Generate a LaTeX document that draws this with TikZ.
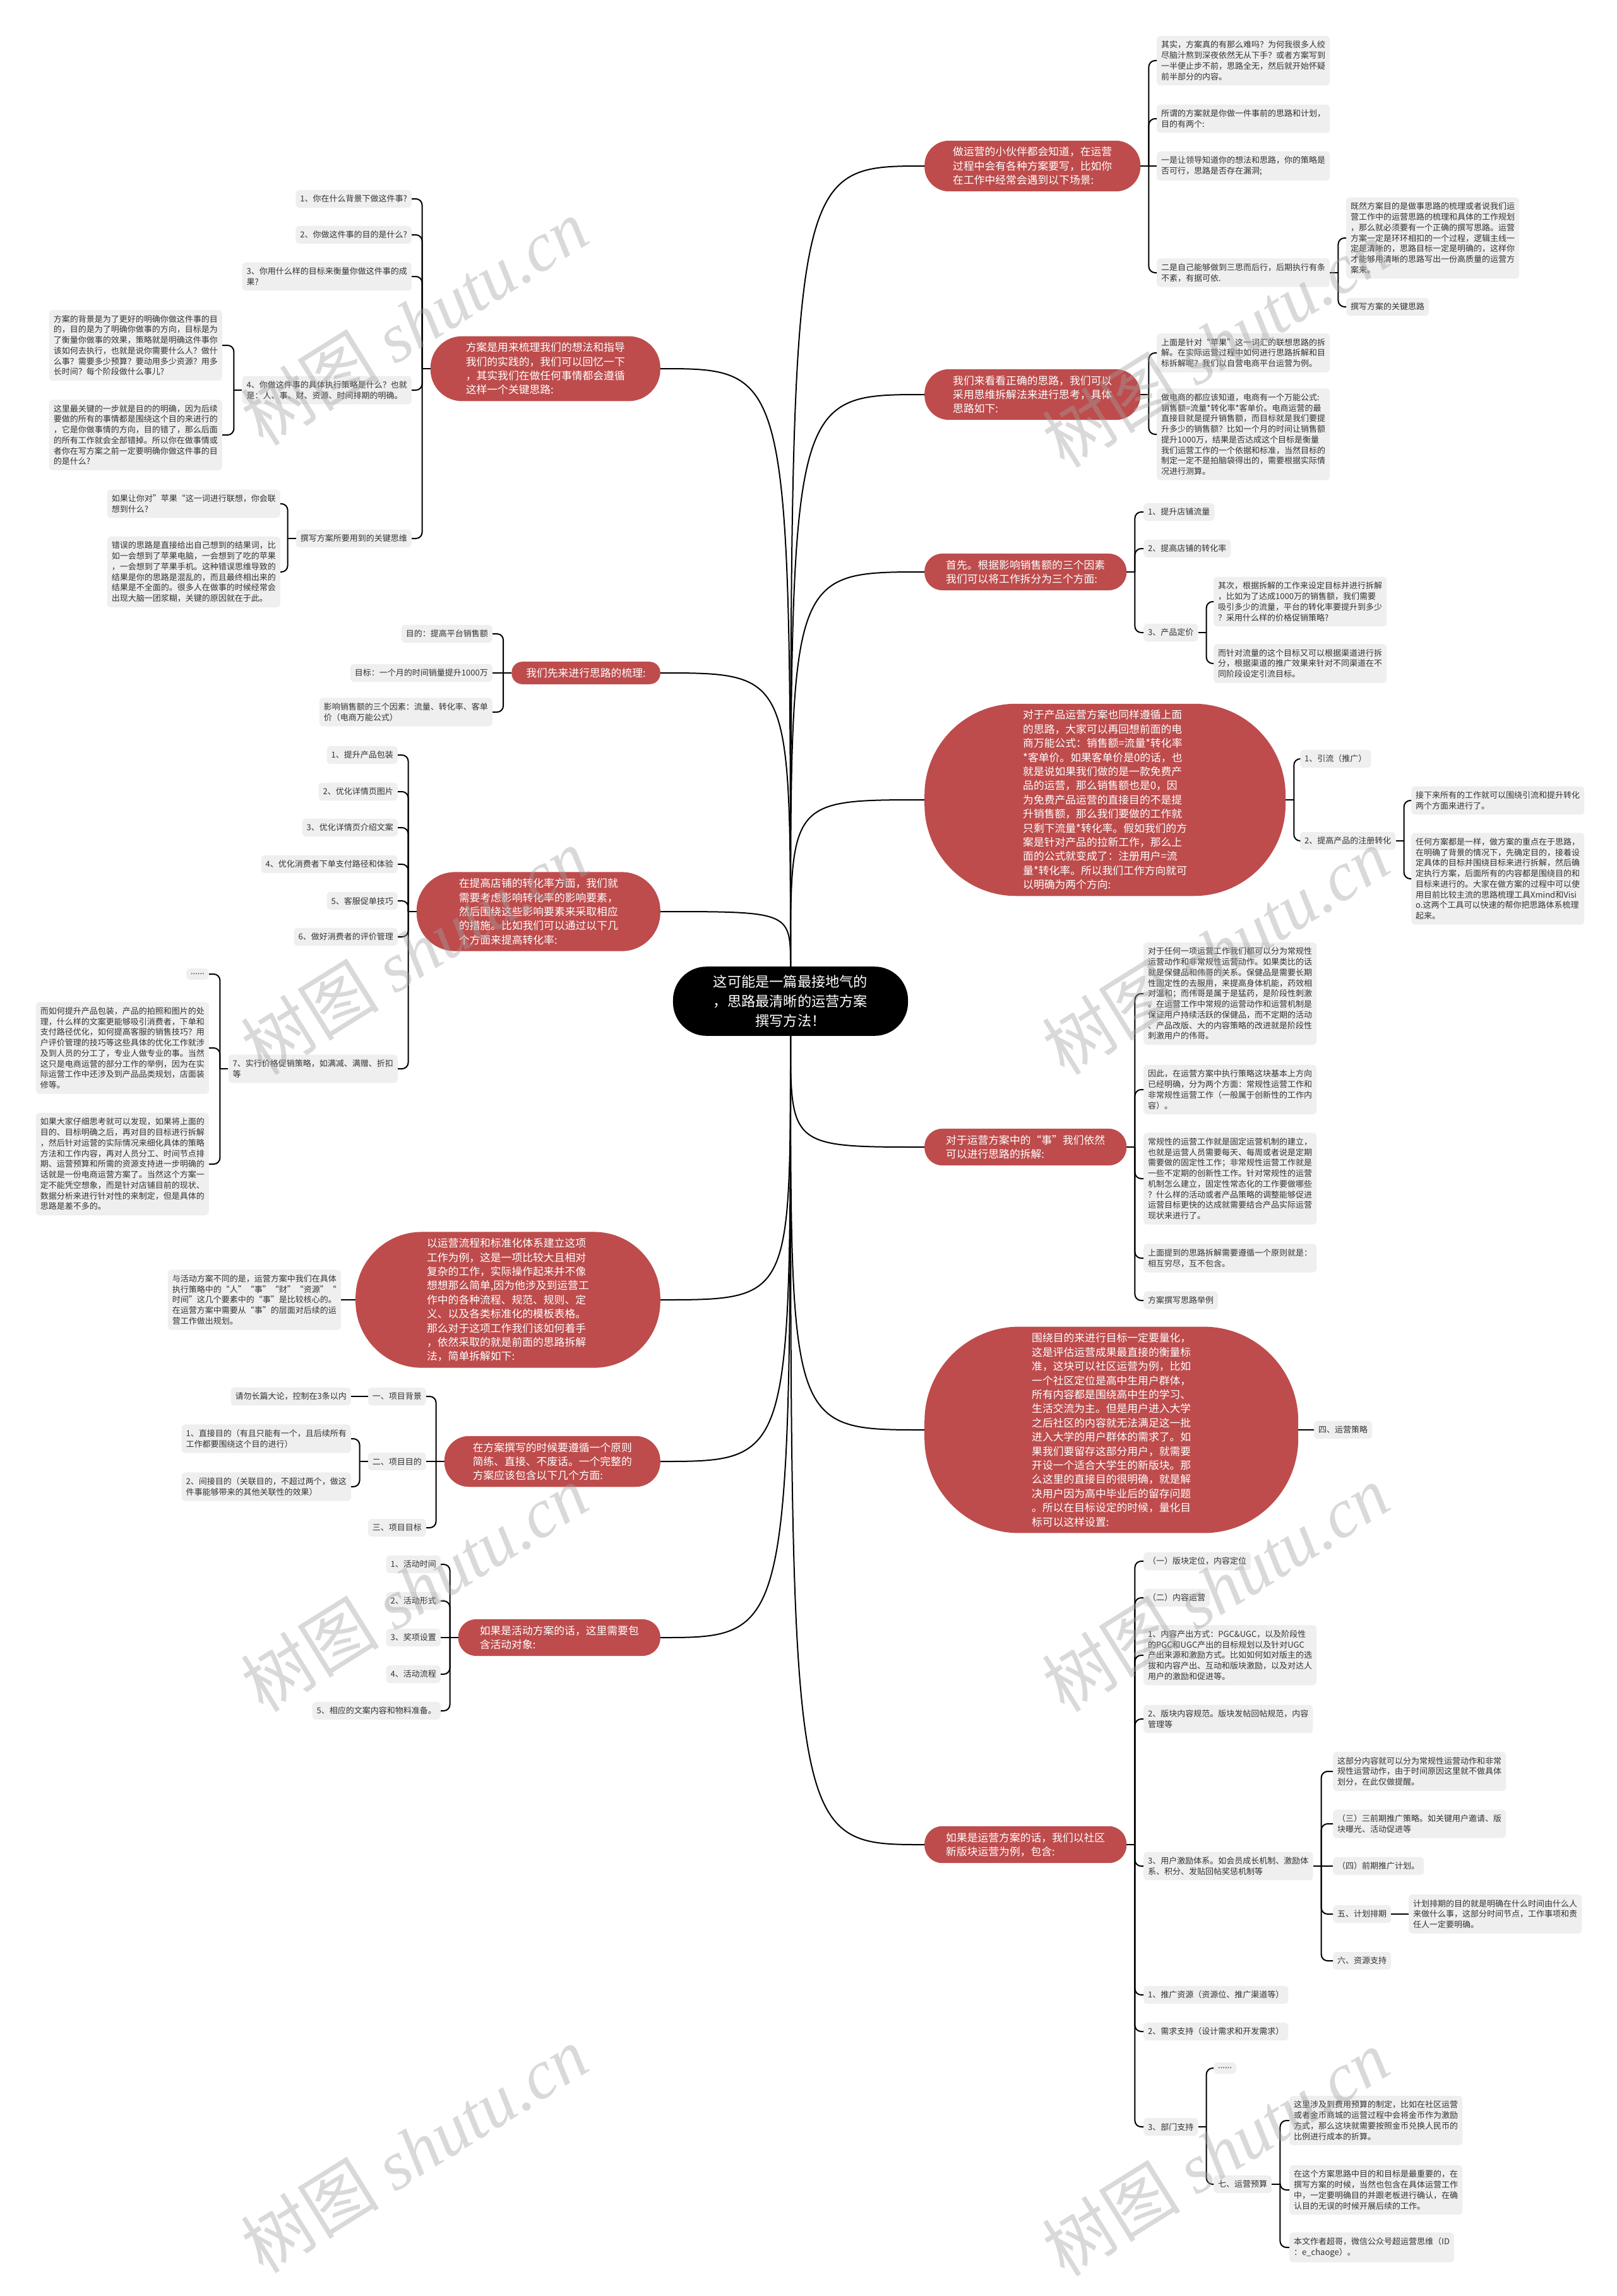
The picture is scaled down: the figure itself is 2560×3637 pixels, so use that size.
\documentclass[tikz,border=0pt]{standalone}
\usepackage{fontspec}
\setmainfont{Noto Sans CJK SC}
\newfontfamily\wmserif{Liberation Serif}
\definecolor{redn}{RGB}{190,76,76}
\definecolor{grayn}{RGB}{239,239,239}
\definecolor{txt}{RGB}{51,51,51}
\definecolor{wmc}{RGB}{160,160,160}
\tikzset{
  conn/.style={draw=black, line width=2pt},
  gbox/.style={fill=grayn, rounded corners=6pt, text=txt, align=left, inner xsep=7pt, inner ysep=8pt, font=\fontsize{13}{16.75}\selectfont},
  rbox/.style={rectangle, rounded corners=#1pt, fill=redn, text=white, align=left, inner xsep=#1pt+6pt, inner ysep=10pt, font=\fontsize{16.8}{22.4}\selectfont},
  cbox/.style={rectangle, rounded corners=53pt, fill=black, text=white, align=center, inner xsep=64pt, inner ysep=13.7pt, font=\fontsize{22.2}{30.8}\selectfont},
  wm/.style={text=wmc, opacity=0.4, rotate=32, inner sep=0pt, font=\fontsize{110}{110}\selectfont},
}
\newcommand{\kidsR}[2]{\draw[conn] (#1.east) -- ++(13,0) coordinate (sp);
  \foreach \k in {#2}{\draw[conn,rounded corners=10pt] (sp) |- (\k.west);}}
\newcommand{\kidsL}[2]{\draw[conn] (#1.west) -- ++(-13,0) coordinate (sp);
  \foreach \k in {#2}{\draw[conn,rounded corners=10pt] (sp) |- (\k.east);}}
\begin{document}
\begin{tikzpicture}[x=1pt,y=-1pt]
\useasboundingbox (0,0) rectangle (2560,3637);
\fill[white] (0,0) rectangle (2560,3637);

% center
\node[cbox] (C) at (1252,1586) {这可能是一篇最接地气的\\，思路最清晰的运营方案\\撰写方法！};

% ---------------- right side ----------------
\node[rbox=39, anchor=west] (R1) at (1464,263) {做运营的小伙伴都会知道，在运营\\过程中会有各种方案要写，比如你\\在工作中经常会遇到以下场景:};
\node[gbox, anchor=west] (R1a) at (1832,96) {其实，方案真的有那么难吗？为何我很多人绞\\尽脑汁熬到深夜依然无从下手？或者方案写到\\一半便止步不前，思路全无，然后就开始怀疑\\前半部分的内容。};
\node[gbox, anchor=west] (R1b) at (1832,188) {所谓的方案就是你做一件事前的思路和计划，\\目的有两个:};
\node[gbox, anchor=west] (R1c) at (1832,263) {一是让领导知道你的想法和思路，你的策略是\\否可行，思路是否存在漏洞;};
\node[gbox, anchor=west] (R1d) at (1832,432) {二是自己能够做到三思而后行，后期执行有条\\不紊，有据可依.};
\node[gbox, anchor=west] (R1d1) at (2132,377) {既然方案目的是做事思路的梳理或者说我们运\\营工作中的运营思路的梳理和具体的工作规划\\，那么就必须要有一个正确的撰写思路。运营\\方案一定是环环相扣的一个过程，逻辑主线一\\定是清晰的，思路目标一定是明确的，这样你\\才能够用清晰的思路写出一份高质量的运营方\\案来。};
\node[gbox, anchor=west] (R1d2) at (2132,486) {撰写方案的关键思路};

\node[rbox=39, anchor=west] (R2) at (1464,625) {我们来看看正确的思路，我们可以\\采用思维拆解法来进行思考，具体\\思路如下:};
\node[gbox, anchor=west] (R2a) at (1832,559) {上面是针对“苹果”这一词汇的联想思路的拆\\解。在实际运营过程中如何进行思路拆解和目\\标拆解呢？我们以自营电商平台运营为例。};
\node[gbox, anchor=west] (R2b) at (1832,688) {做电商的都应该知道，电商有一个万能公式:\\销售额=流量*转化率*客单价。电商运营的最\\直接目就是提升销售额，而目标就是我们要提\\升多少的销售额？比如一个月的时间让销售额\\提升1000万，结果是否达成这个目标是衡量\\我们运营工作的一个依据和标准，当然目标的\\制定一定不是拍脑袋得出的，需要根据实际情\\况进行测算。};

\node[rbox=28, anchor=west] (R3) at (1464,906) {首先。根据影响销售额的三个因素\\我们可以将工作拆分为三个方面:};
\node[gbox, anchor=west] (R3a) at (1811,811) {1、提升店铺流量};
\node[gbox, anchor=west] (R3b) at (1811,869) {2、提高店铺的转化率};
\node[gbox, anchor=west] (R3c) at (1811,1002) {3、产品定价};
\node[gbox, anchor=west] (R3c1) at (1922,953) {其次，根据拆解的工作来设定目标并进行拆解\\，比如为了达成1000万的销售额，我们需要\\吸引多少的流量，平台的转化率要提升到多少\\？采用什么样的价格促销策略?};
\node[gbox, anchor=west] (R3c2) at (1922,1051) {而针对流量的这个目标又可以根据渠道进行拆\\分，根据渠道的推广效果来针对不同渠道在不\\同阶段设定引流目标。};

\node[rbox=145, inner xsep=156pt, anchor=west] (R4) at (1464,1267) {对于产品运营方案也同样遵循上面\\的思路，大家可以再回想前面的电\\商万能公式：销售额=流量*转化率\\*客单价。如果客单价是0的话，也\\就是说如果我们做的是一款免费产\\品的运营，那么销售额也是0，因\\为免费产品运营的直接目的不是提\\升销售额，那么我们要做的工作就\\只剩下流量*转化率。假如我们的方\\案是针对产品的拉新工作，那么上\\面的公式就变成了：注册用户=流\\量*转化率。所以我们工作方向就可\\以明确为两个方向:};
\node[gbox, anchor=west] (R4a) at (2059,1202) {1、引流（推广）};
\node[gbox, anchor=west] (R4b) at (2059,1332) {2、提高产品的注册转化};
\node[gbox, anchor=west] (R4b1) at (2235,1268) {接下来所有的工作就可以围绕引流和提升转化\\两个方面来进行了。};
\node[gbox, anchor=west] (R4b2) at (2235,1392) {任何方案都是一样，做方案的重点在于思路，\\在明确了背景的情况下，先确定目的，接着设\\定具体的目标并围绕目标来进行拆解，然后确\\定执行方案，后面所有的内容都是围绕目的和\\目标来进行的。大家在做方案的过程中可以使\\用目前比较主流的思路梳理工具Xmind和Visi\\o.这两个工具可以快速的帮你把思路体系梳理\\起来。};

\node[rbox=28, anchor=west] (R5) at (1464,1817) {对于运营方案中的“事”我们依然\\可以进行思路的拆解:};
\node[gbox, anchor=west] (R5a) at (1811,1574) {对于任何一项运营工作我们都可以分为常规性\\运营动作和非常规性运营动作。如果类比的话\\就是保健品和伟哥的关系。保健品是需要长期\\性固定性的去服用，来提高身体机能，药效相\\对温和；而伟哥是属于是猛药，是阶段性刺激\\。在运营工作中常规的运营动作和运营机制是\\保证用户持续活跃的保健品，而不定期的活动\\、产品改版、大的内容策略的改进就是阶段性\\刺激用户的伟哥。};
\node[gbox, anchor=west] (R5b) at (1811,1726) {因此，在运营方案中执行策略这块基本上方向\\已经明确，分为两个方面：常规性运营工作和\\非常规性运营工作（一般属于创新性的工作内\\容）。};
\node[gbox, anchor=west] (R5c) at (1811,1867) {常规性的运营工作就是固定运营机制的建立，\\也就是运营人员需要每天、每周或者说是定期\\需要做的固定性工作；非常规性运营工作就是\\一些不定期的创新性工作。针对常规性的运营\\机制怎么建立，固定性常态化的工作要做哪些\\？什么样的活动或者产品策略的调整能够促进\\运营目标更快的达成就需要结合产品实际运营\\现状来进行了。};
\node[gbox, anchor=west] (R5d) at (1811,1993) {上面提到的思路拆解需要遵循一个原则就是：\\相互穷尽，互不包含。};
\node[gbox, anchor=west] (R5e) at (1811,2060) {方案撰写思路举例};

\node[rbox=150, inner xsep=170pt, anchor=west] (R6) at (1464,2265) {围绕目的来进行目标一定要量化，\\这是评估运营成果最直接的衡量标\\准，这块可以社区运营为例，比如\\一个社区定位是高中生用户群体，\\所有内容都是围绕高中生的学习、\\生活交流为主。但是用户进入大学\\之后社区的内容就无法满足这一批\\进入大学的用户群体的需求了。如\\果我们要留存这部分用户，就需要\\开设一个适合大学生的新版块。那\\么这里的直接目的很明确，就是解\\决用户因为高中毕业后的留存问题\\。所以在目标设定的时候，量化目\\标可以这样设置:};
\node[gbox, anchor=west] (R6a) at (2081,2265) {四、运营策略};

\node[rbox=28, anchor=west] (R7) at (1464,2922) {如果是运营方案的话，我们以社区\\新版块运营为例，包含:};
\node[gbox, anchor=west] (R7a) at (1811,2473) {（一）版块定位，内容定位};
\node[gbox, anchor=west] (R7b) at (1811,2531) {（二）内容运营};
\node[gbox, anchor=west] (R7c) at (1811,2622) {1、内容产出方式：PGC\&UGC，以及阶段性\\的PGC和UGC产出的目标规划以及针对UGC\\产出来源和激励方式。比如如何如对版主的选\\拔和内容产出、互动和版块激励，以及对达人\\用户的激励和促进等。};
\node[gbox, anchor=west] (R7d) at (1811,2723) {2、版块内容规范。版块发帖回帖规范，内容\\管理等};
\node[gbox, anchor=west] (R7e) at (1811,2956) {3、用户激励体系。如会员成长机制、激励体\\系、积分、发贴回帖奖惩机制等};
\node[gbox, anchor=west] (R7e1) at (2111,2806) {这部分内容就可以分为常规性运营动作和非常\\规性运营动作，由于时间原因这里就不做具体\\划分，在此仅做提醒。};
\node[gbox, anchor=west] (R7e2) at (2111,2889) {（三）三前期推广策略。如关键用户邀请、版\\块曝光、活动促进等};
\node[gbox, anchor=west] (R7e3) at (2111,2956) {（四）前期推广计划。};
\node[gbox, anchor=west] (R7e4) at (2111,3032) {五、计划排期};
\node[gbox, anchor=west] (R7e4a) at (2231,3032) {计划排期的目的就是明确在什么时间由什么人\\来做什么事，这部分时间节点，工作事项和责\\任人一定要明确。};
\node[gbox, anchor=west] (R7e5) at (2111,3106) {六、资源支持};
\node[gbox, anchor=west] (R7f) at (1811,3160) {1、推广资源（资源位、推广渠道等）};
\node[gbox, anchor=west] (R7g) at (1811,3218) {2、需求支持（设计需求和开发需求）};
\node[gbox, anchor=west] (R7h) at (1811,3369) {3、部门支持};
\node[gbox, anchor=west] (R7h1) at (1922,3276) {......};
\node[gbox, anchor=west] (R7h2) at (1922,3460) {七、运营预算};
\node[gbox, anchor=west] (R7h2a) at (2042,3359) {这里涉及到费用预算的制定，比如在社区运营\\或者金币商城的运营过程中会将金币作为激励\\方式，那么这块就需要按照金币兑换人民币的\\比例进行成本的折算。};
\node[gbox, anchor=west] (R7h2b) at (2042,3469) {在这个方案思路中目的和目标是最重要的，在\\撰写方案的时候，当然也包含在具体运营工作\\中，一定要明确目的并跟老板进行确认，在确\\认目的无误的时候开展后续的工作。};
\node[gbox, anchor=west] (R7h2c) at (2042,3560) {本文作者超哥，微信公众号超运营思维（ID\\：e\_chaoge）。};

% ---------------- left side ----------------
\node[rbox=50, anchor=east] (L1) at (1046,584) {方案是用来梳理我们的想法和指导\\我们的实践的，我们可以回忆一下\\，其实我们在做任何事情都会遵循\\这样一个关键思路:};
\node[gbox, anchor=east] (L1a) at (652,315) {1、你在什么背景下做这件事?};
\node[gbox, anchor=east] (L1b) at (652,372) {2、你做这件事的目的是什么?};
\node[gbox, anchor=east] (L1c) at (652,438) {3、你用什么样的目标来衡量你做这件事的成\\果?};
\node[gbox, anchor=east] (L1d) at (652,618) {4、你做这件事的具体执行策略是什么？也就\\是：人、事、财、资源、时间排期的明确。};
\node[gbox, anchor=east] (L1d1) at (352,547) {方案的背景是为了更好的明确你做这件事的目\\的，目的是为了明确你做事的方向，目标是为\\了衡量你做事的效果，策略就是明确这件事你\\该如何去执行，也就是说你需要什么人？做什\\么事？需要多少预算？要动用多少资源？用多\\长时间？每个阶段做什么事儿?};
\node[gbox, anchor=east] (L1d2) at (352,689) {这里最关键的一步就是目的的明确，因为后续\\要做的所有的事情都是围绕这个目的来进行的\\，它是你做事情的方向，目的错了，那么后面\\的所有工作就会全部错掉。所以你在做事情或\\者你在写方案之前一定要明确你做这件事的目\\的是什么?};
\node[gbox, anchor=east] (L1e) at (652,853) {撰写方案所要用到的关键思维};
\node[gbox, anchor=east] (L1e1) at (444,798) {如果让你对”苹果“这一词进行联想，你会联\\想到什么?};
\node[gbox, anchor=east] (L1e2) at (444,906) {错误的思路是直接给出自己想到的结果词，比\\如一会想到了苹果电脑，一会想到了吃的苹果\\，一会想到了苹果手机。这种错误思维导致的\\结果是你的思路是混乱的，而且最终相出来的\\结果是不全面的。很多人在做事的时候经常会\\出现大脑一团浆糊，关键的原因就在于此。};

\node[rbox=17, anchor=east] (L2) at (1046,1066) {我们先来进行思路的梳理:};
\node[gbox, anchor=east] (L2a) at (780,1004) {目的：提高平台销售额};
\node[gbox, anchor=east] (L2b) at (780,1066) {目标：一个月的时间销量提升1000万};
\node[gbox, anchor=east] (L2c) at (780,1128) {影响销售额的三个因素：流量、转化率、客单\\价（电商万能公式）};

\node[rbox=61, anchor=east] (L3) at (1046,1444) {在提高店铺的转化率方面，我们就\\需要考虑影响转化率的影响要素，\\然后围绕这些影响要素来采取相应\\的措施。比如我们可以通过以下几\\个方面来提高转化率:};
\node[gbox, anchor=east] (L3a) at (630,1196) {1、提升产品包装};
\node[gbox, anchor=east] (L3b) at (630,1254) {2、优化详情页图片};
\node[gbox, anchor=east] (L3c) at (630,1311) {3、优化详情页介绍文案};
\node[gbox, anchor=east] (L3d) at (630,1369) {4、优化消费者下单支付路径和体验};
\node[gbox, anchor=east] (L3e) at (630,1427) {5、客服促单技巧};
\node[gbox, anchor=east] (L3f) at (630,1484) {6、做好消费者的评价管理};
\node[gbox, anchor=east] (L3g) at (630,1693) {7、实行价格促销策略，如满减、满赠、折扣\\等};
\node[gbox, anchor=east] (L3g1) at (331,1543) {......};
\node[gbox, anchor=east] (L3g2) at (331,1660) {而如何提升产品包装，产品的拍照和图片的处\\理，什么样的文案更能够吸引消费者，下单和\\支付路径优化，如何提高客服的销售技巧？用\\户评价管理的技巧等这些具体的优化工作就涉\\及到人员的分工了，专业人做专业的事。当然\\这只是电商运营的部分工作的举例，因为在实\\际运营工作中还涉及到产品品类规划，店面装\\修等。};
\node[gbox, anchor=east] (L3g3) at (331,1844) {如果大家仔细思考就可以发现，如果将上面的\\目的、目标明确之后，再对目的目标进行拆解\\，然后针对运营的实际情况来细化具体的策略\\方法和工作内容，再对人员分工、时间节点排\\期、运营预算和所需的资源支持进一步明确的\\话就是一份电商运营方案了。当然这个方案一\\定不能凭空想象，而是针对店铺目前的现状、\\数据分析来进行针对性的来制定，但是具体的\\思路是差不多的。};

\node[rbox=105, inner xsep=113pt, anchor=east] (L4) at (1046,2059) {以运营流程和标准化体系建立这项\\工作为例，这是一项比较大且相对\\复杂的工作，实际操作起来并不像\\想想那么简单,因为他涉及到运营工\\作中的各种流程、规范、规则、定\\义、以及各类标准化的模板表格。\\那么对于这项工作我们该如何着手\\，依然采取的就是前面的思路拆解\\法，简单拆解如下:};
\node[gbox, anchor=east] (L4a) at (540,2059) {与活动方案不同的是，运营方案中我们在具体\\执行策略中的“人”“事”“财”“资源”“\\时间”这几个要素中的“事”是比较核心的。\\在运营方案中需要从“事”的层面对后续的运\\营工作做出规划。};

\node[rbox=39, anchor=east] (L5) at (1046,2315) {在方案撰写的时候要遵循一个原则\\简练、直接、不废话。一个完整的\\方案应该包含以下几个方面:};
\node[gbox, anchor=east] (L5a) at (675,2212) {一、项目背景};
\node[gbox, anchor=east] (L5a1) at (556,2212) {请勿长篇大论，控制在3条以内};
\node[gbox, anchor=east] (L5b) at (675,2315) {二、项目目的};
\node[gbox, anchor=east] (L5b1) at (556,2279) {1、直接目的（有且只能有一个，且后续所有\\工作都要围绕这个目的进行）};
\node[gbox, anchor=east] (L5b2) at (556,2355) {2、间接目的（关联目的，不超过两个，做这\\件事能够带来的其他关联性的效果）};
\node[gbox, anchor=east] (L5c) at (675,2420) {三、项目目标};

\node[rbox=28, anchor=east] (L6) at (1046,2594) {如果是活动方案的话，这里需要包\\含活动对象:};
\node[gbox, anchor=east] (L6a) at (698,2478) {1、活动时间};
\node[gbox, anchor=east] (L6b) at (698,2536) {2、活动形式};
\node[gbox, anchor=east] (L6c) at (698,2594) {3、奖项设置};
\node[gbox, anchor=east] (L6d) at (698,2652) {4、活动流程};
\node[gbox, anchor=east] (L6e) at (698,2710) {5、相应的文案内容和物料准备。};

% ---------------- connectors ----------------
\foreach \n in {R1,R2,R3,R4} \draw[conn] (C.north) .. controls (C.north |- \n.west) .. (\n.west);
\foreach \n in {L1,L2,L3} \draw[conn] (C.north) .. controls (C.north |- \n.east) .. (\n.east);
\foreach \n in {R5,R6,R7} \draw[conn] (C.south) .. controls (C.south |- \n.west) .. (\n.west);
\foreach \n in {L4,L5,L6} \draw[conn] (C.south) .. controls (C.south |- \n.east) .. (\n.east);

\kidsR{R1}{R1a,R1b,R1d}
\draw[conn] (R1.east) -- (R1c.west);
\kidsR{R1d}{R1d1,R1d2}
\kidsR{R2}{R2a,R2b}
\kidsR{R3}{R3a,R3b,R3c}
\kidsR{R3c}{R3c1,R3c2}
\kidsR{R4}{R4a,R4b}
\kidsR{R4b}{R4b1,R4b2}
\kidsR{R5}{R5a,R5b,R5c,R5d,R5e}
\draw[conn] (R6.east) -- (R6a.west);
\kidsR{R7}{R7a,R7b,R7c,R7d,R7e,R7f,R7g,R7h}
\kidsR{R7e}{R7e1,R7e2,R7e4,R7e5}
\draw[conn] (R7e.east) -- (R7e3.west);
\draw[conn] (R7e4.east) -- (R7e4a.west);
\kidsR{R7h}{R7h1,R7h2}
\kidsR{R7h2}{R7h2a,R7h2b,R7h2c}

\kidsL{L1}{L1a,L1b,L1c,L1d,L1e}
\kidsL{L1d}{L1d1,L1d2}
\kidsL{L1e}{L1e1,L1e2}
\kidsL{L2}{L2a,L2c}
\draw[conn] (L2.west) -- (L2b.east);
\kidsL{L3}{L3a,L3b,L3c,L3d,L3e,L3f,L3g}
\kidsL{L3g}{L3g1,L3g2,L3g3}
\draw[conn] (L4.west) -- (L4a.east);
\kidsL{L5}{L5a,L5c}
\draw[conn] (L5.west) -- (L5b.east);
\draw[conn] (L5a.west) -- (L5a1.east);
\kidsL{L5b}{L5b1,L5b2}
\kidsL{L6}{L6a,L6b,L6d,L6e}
\draw[conn] (L6.west) -- (L6c.east);

% ---------------- watermarks ----------------
\foreach \wx/\wy [count=\i] in {656/510,1925/545,656/1507,1925/1507,656/2516,1925/2516,656/3405,1925/3410}
  \node[wm] (wm\i) at (\wx,\wy) {树图 {\wmserif\itshape shutu.cn}};
\end{tikzpicture}
\end{document}
